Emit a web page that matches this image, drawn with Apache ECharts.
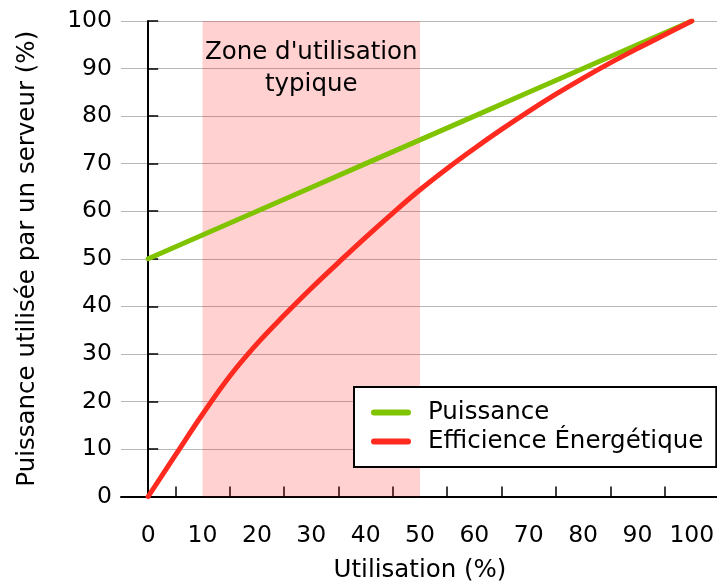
<!DOCTYPE html>
<html>
<head>
<meta charset="utf-8">
<script src="https://cdn.jsdelivr.net/npm/echarts@6/dist/echarts.min.js"></script>
<style>
html,body{margin:0;padding:0;background:#fff;}
#chart{width:717px;height:583px;}
</style>
</head>
<body>
<div id="chart"></div>
<script>
// ---- data ----
const xLabelValues = [0, 10, 20, 30, 40, 50, 60, 70, 80, 90, 100];
const xTickValues = [5, 15, 25, 35, 45, 55, 65, 75, 85, 95];
const powerX = [0, 10, 20, 30, 40, 50, 60, 70, 80, 90, 100];
const powerY = [50, 55, 60, 65, 70, 75, 80, 85, 90, 95, 100];
const effX = [0, 5, 10, 15, 20, 25, 30, 35, 40, 45, 50, 55, 60, 65, 70, 75, 80, 85, 90, 95, 100];
const effY = [0, 8.7, 17.3, 25.3, 32.1, 38.1, 43.8, 49.2, 54.5, 59.6, 64.5, 69.0, 73.2, 77.2, 81.0, 84.6, 88.0, 91.2, 94.2, 97.1, 100];
const zoneRange = [10, 50];
const zoneLabel = "Zone d'utilisation\ntypique";
const seriesNames = ['Puissance', 'Efficience Énergétique'];
const xTitle = 'Utilisation (%)';
const yTitle = 'Puissance utilisée par un serveur (%)';

const FONT = 'DejaVu Sans';
const chart = echarts.init(document.getElementById('chart'), null, {renderer: 'canvas'});
const pill = 'path://M3,0 L37,0 A3,3 0 0 1 37,6 L3,6 A3,3 0 0 1 3,0 Z';

chart.setOption({
  animation: false,
  backgroundColor: '#ffffff',
  textStyle: {fontFamily: FONT},
  grid: {left: 121, right: -2, top: 21, bottom: 86.5, containLabel: false, outerBoundsMode: 'none'},
  legend: {
    orient: 'vertical',
    left: 354, top: 387,
    padding: [13, 13, 13, 17],
    itemGap: 4,
    itemWidth: 40, itemHeight: 6,
    borderColor: '#000', borderWidth: 2,
    backgroundColor: '#fff',
    textStyle: {fontFamily: FONT, fontSize: 24.5, color: '#000', padding: [0, 0, 0, 12], lineHeight: 24},
    data: [
      {name: seriesNames[0], icon: pill},
      {name: seriesNames[1], icon: pill}
    ]
  },
  xAxis: {
    type: 'value', min: -5, max: 105,
    name: xTitle, nameLocation: 'middle', nameGap: 62,
    nameTextStyle: {fontFamily: FONT, fontSize: 24.5, color: '#000'},
    axisLine: {show: true, onZero: false, lineStyle: {color: '#000', width: 2}},
    axisTick: {show: true, inside: true, length: 10, customValues: xTickValues, lineStyle: {color: '#000', width: 1.5}},
    axisLabel: {customValues: xLabelValues, margin: 27, fontFamily: FONT, fontSize: 23.5, color: '#000'},
    splitLine: {show: false}
  },
  yAxis: {
    type: 'value', min: 0, max: 100, interval: 10,
    name: yTitle, nameLocation: 'middle', nameGap: 81, nameRotate: 90,
    nameTextStyle: {fontFamily: FONT, fontSize: 24.5, color: '#000'},
    axisLine: {show: true, lineStyle: {color: '#000', width: 2}},
    axisTick: {show: true, inside: true, length: 10, lineStyle: {color: '#000', width: 1.5}},
    axisLabel: {margin: 9, fontFamily: FONT, fontSize: 23.5, color: '#000'},
    splitLine: {show: true, lineStyle: {color: '#b8b8b8', width: 1.2}}
  },
  series: [
    {
      name: seriesNames[0], type: 'line',
      data: powerX.map((x, i) => [x, powerY[i]]),
      showSymbol: false, symbol: 'none',
      color: '#80c400',
      lineStyle: {color: '#80c400', width: 5, cap: 'round'},
      z: 3,
      markArea: {
        silent: true,
        itemStyle: {color: 'rgba(255,0,0,0.18)'},
        label: {
          show: true, position: 'insideTop', distance: 16,
          fontFamily: FONT, fontSize: 24.5, color: '#000', lineHeight: 32, align: 'center'
        },
        data: [[{xAxis: zoneRange[0], name: zoneLabel}, {xAxis: zoneRange[1]}]]
      }
    },
    {
      name: seriesNames[1], type: 'line',
      data: effX.map((x, i) => [x, effY[i]]),
      showSymbol: false, symbol: 'none',
      smooth: 0.4,
      color: '#ff2a1f',
      lineStyle: {color: '#ff2a1f', width: 5, cap: 'round'},
      z: 4
    }
  ]
});
</script>
</body>
</html>
